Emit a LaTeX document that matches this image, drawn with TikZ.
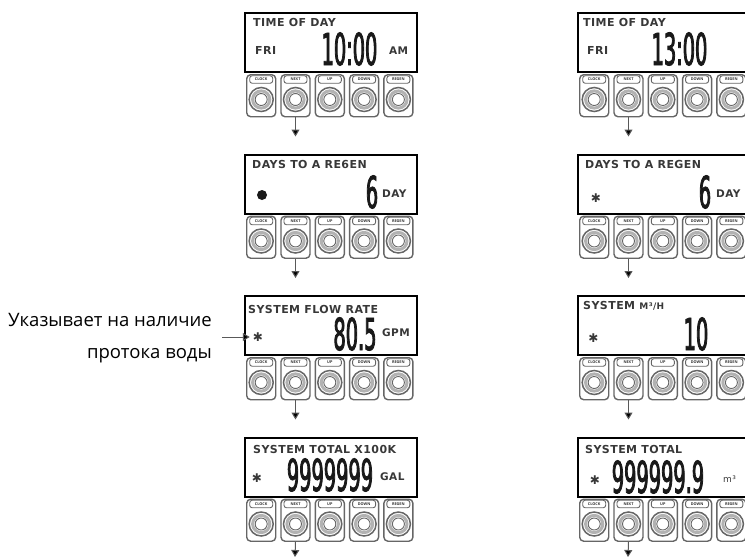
\documentclass[tikz,border=0pt]{standalone}
\usepackage{fontspec}
\setmainfont{Open Sans}
\newfontfamily\lcdfont[LetterSpace=4]{DejaVu Sans}
\newfontfamily\segfont[FakeStretch=0.44,FakeBold=1.8]{DejaVu Sans}
\usetikzlibrary{arrows.meta,calc}
\definecolor{lcdink}{HTML}{383838}
\definecolor{keygray}{HTML}{666666}

\begin{document}
\begin{tikzpicture}[x=1pt,y=-1pt,
  lcd/.style={draw, line width=2.4pt, minimum width=172pt, minimum height=59pt, anchor=north west, inner sep=0pt},
  lbl/.style={anchor=base west, inner sep=0pt, text=lcdink, font=\lcdfont\bfseries\fontsize{11}{12}\selectfont},
  unit/.style={lbl, font=\lcdfont\bfseries\fontsize{10.5}{12}\selectfont},
  seg/.style={anchor=base, inner sep=0pt, text=black!90, font=\segfont\fontsize{44}{44}\selectfont},
  lcdstar/.style={inner sep=0pt, text=lcdink, font=\lcdfont\bfseries\fontsize{12}{12}\selectfont},
  btn/.style={draw=keygray, line width=1.4pt, rounded corners=4pt, minimum width=29pt, minimum height=42pt, anchor=north west, inner sep=0pt},
  keycap/.style={draw=keygray, line width=0.9pt, rounded corners=2.5pt, minimum width=23pt, minimum height=7.5pt, inner sep=0pt, text=black!80, font=\fontsize{3.8}{3.8}\selectfont\bfseries},
  flow/.style={draw=black!65, line width=1pt, -{Triangle[width=8pt,length=7pt,fill=black]}}
]
\useasboundingbox (0,0) rectangle (745,560);
\clip (0,0) rectangle (745,560);

% displays and keypads
\foreach \col/\cx in {l/244, r/577} {
  \foreach \row in {1,...,4} {
    \pgfmathsetmacro\cy{12+(\row-1)*141.5}
    \node[lcd] (\col\row) at (\cx,\cy) {};
    \foreach \k/\key in {1/CLOCK,2/NEXT,3/UP,4/DOWN,5/REGEN} {
      \pgfmathsetmacro\bx{\cx+2+(\k-1)*34.3}
      \pgfmathsetmacro\by{\cy+62}
      \node[btn] (\col\row b\k) at (\bx,\by) {};
      \node[keycap] (\col\row k\k) at ($(\col\row b\k.north)+(0,5.5)$) {\key};
      \draw[keygray, line width=1.5pt] ($(\col\row b\k.north)+(0,25.5)$) circle[radius=12pt];
      \draw[gray!60, line width=3pt] ($(\col\row b\k.north)+(0,25.5)$) circle[radius=8.6pt];
      \draw[keygray, line width=0.9pt, fill=white] ($(\col\row b\k.north)+(0,25.5)$) circle[radius=6pt];
    }
  }
}

% left column
\node[lbl] (l1t) at (253,26) {TIME OF DAY};
\node[lbl] (l1d) at (255,54) {FRI};
\node[seg] (l1v) at (349.5,65) {10:00};
\node[unit] (l1u) at (389,54) {AM};

\node[lbl] (l2t) at (252,168.5) {DAYS TO A RE6EN};
\node[circle, fill=black!90, minimum size=10pt, inner sep=0pt] (l2s) at (262,195) {};
\node[seg] (l2v) at (372,208) {6};
\node[unit] (l2u) at (382,197) {DAY};

\node[lbl] (l3t) at (248,313) {SYSTEM FLOW RATE};
\node[lcdstar] (l3s) at (258,337) {✱};
\node[seg] (l3v) at (355,350) {80.5};
\node[unit] (l3u) at (382,336) {GPM};

\node[lbl] (l4t) at (253,453) {SYSTEM TOTAL X100K};
\node[lcdstar] (l4s) at (257,478) {✱};
\node[seg] (l4v) at (330,491) {9999999};
\node[unit] (l4u) at (380,480) {GAL};

% right column
\node[lbl] (r1t) at (583,26) {TIME OF DAY};
\node[lbl] (r1d) at (587,54.5) {FRI};
\node[seg] (r1v) at (679.5,65) {13:00};

\node[lbl] (r2t) at (585,168.5) {DAYS TO A REGEN};
\node[lcdstar] (r2s) at (596,198) {✱};
\node[seg] (r2v) at (705,208) {6};
\node[unit] (r2u) at (716,197) {DAY};

\node[lbl] (r3t) at (583,309) {SYSTEM \fontsize{9}{9}\selectfont M³/H};
\node[lcdstar] (r3s) at (593.5,338.5) {✱};
\node[seg] (r3v) at (696,350) {10};

\node[lbl] (r4t) at (585,453) {SYSTEM TOTAL};
\node[lcdstar] (r4s) at (595,480) {✱};
\node[seg] (r4v) at (658,493) {999999.9};
\node[unit, font=\lcdfont\fontsize{9}{9}\selectfont] (r4u) at (723,482) {m³};

% note
\node[anchor=east, align=right, inner sep=0pt, font=\fontsize{18.5}{32}\selectfont] (note) at (212,338) {Указывает на наличие\\протока воды};
\draw[flow, shorten <=10pt, shorten >=3pt] (note.east |- l3s.west) -- (l3s.west);

% NEXT arrows
\foreach \col in {l,r} {
  \foreach \row/\nxt in {1/2,2/3,3/4}
    \draw[flow, shorten >=17pt] (\col\row b2.south) -- (\col\row b2.south |- \col\nxt.north);
}
\coordinate (lend) at (295,557);
\coordinate (rend) at (628,557);
\draw[flow] (l4b2.south) -- (lend);
\draw[flow] (r4b2.south) -- (rend);
\end{tikzpicture}
\end{document}
